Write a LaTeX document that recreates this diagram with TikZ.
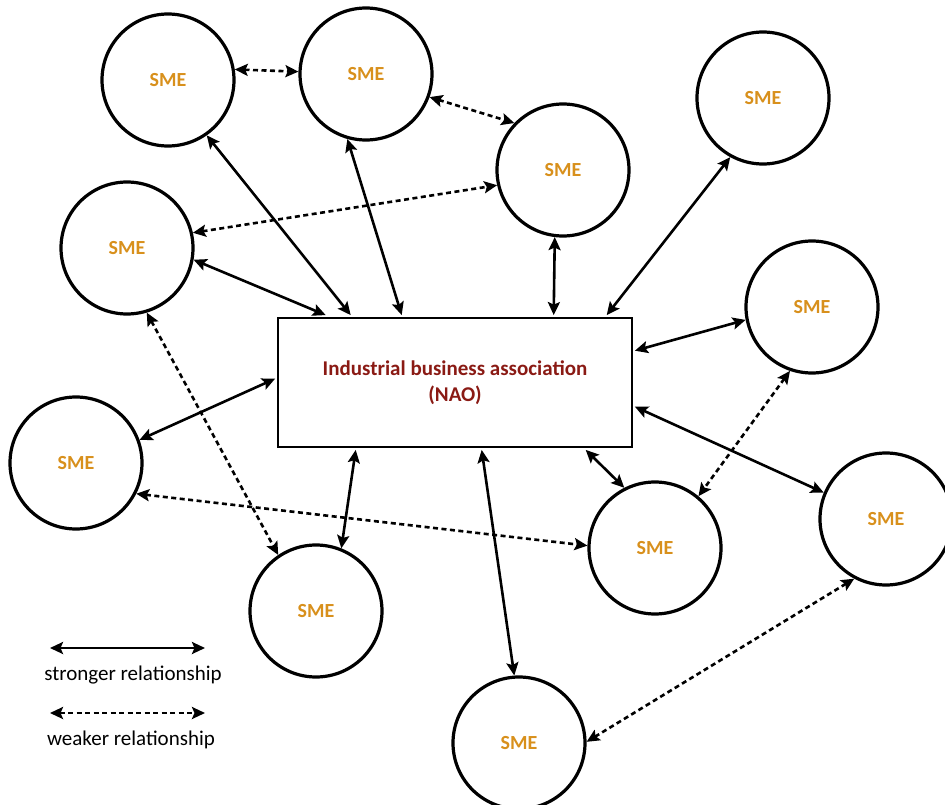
\documentclass[tikz,border=0pt]{standalone}
\usepackage{fontspec}
\setmainfont{Carlito}
\usetikzlibrary{arrows.meta}
\definecolor{smeorange}{HTML}{D8901C}
\definecolor{naored}{HTML}{8A1A14}
\begin{document}
\begin{tikzpicture}[x=1pt,y=-1pt,
  sme/.style={circle,draw,line width=3.2pt,minimum size=132pt,inner sep=0pt,
    text=smeorange,font=\fontsize{20}{22}\selectfont\bfseries},
  nao/.style={rectangle,draw,line width=2.6pt,minimum width=354pt,minimum height=129pt,
    text=naored,align=center,font=\fontsize{21}{26}\selectfont\bfseries},
  strong/.style={line width=2.6pt,{Stealth[length=13pt,width=12pt,inset=2.5pt]}-{Stealth[length=13pt,width=12pt,inset=2.5pt]}},
  weak/.style={strong,dash pattern=on 5pt off 3.5pt},
  legend/.style={font=\fontsize{21}{24}\selectfont}]
\useasboundingbox (0,0) rectangle (945,805);

% central association
\node[nao] (nao) at (455,382.5) {Industrial business association\\(NAO)};

% member firms
\node[sme] (s1) at (168,80) {SME};
\node[sme] (s2) at (366,74) {SME};
\node[sme] (s3) at (563,170) {SME};
\node[sme] (s4) at (763,98) {SME};
\node[sme] (s5) at (127,248) {SME};
\node[sme] (s6) at (812,307) {SME};
\node[sme] (s7) at (76,463) {SME};
\node[sme] (s8) at (316,611) {SME};
\node[sme] (s9) at (655,548) {SME};
\node[sme] (s10) at (886,519) {SME};
\node[sme] (s11) at (519,743) {SME};

% contact points on the association box
\coordinate (t5) at ([xshift=49pt,yshift=1.6pt]nao.north west);
\coordinate (t1) at ([xshift=74pt,yshift=1.6pt]nao.north west);
\coordinate (t2) at ([xshift=125pt,yshift=1.6pt]nao.north west);
\coordinate (t3) at ([xshift=277pt,yshift=1.6pt]nao.north west);
\coordinate (t4) at ([xshift=330pt,yshift=1.6pt]nao.north west);
\coordinate (r6) at ([xshift=1.6pt,yshift=-34pt]nao.north east);
\coordinate (r10) at ([xshift=1.6pt,yshift=-90pt]nao.north east);
\coordinate (l7) at ([xshift=-1.6pt,yshift=-62pt]nao.north west);
\coordinate (b8) at ([xshift=79pt,yshift=-1.6pt]nao.south west);
\coordinate (b11) at ([xshift=205pt,yshift=-1.6pt]nao.south west);
\coordinate (b9) at ([xshift=309pt,yshift=-1.6pt]nao.south west);

% stronger relationships
\draw[strong] (t5) -- (s5.-10);
\draw[strong] (t1) -- (s1.-55);
\draw[strong] (t2) -- (s2.-106);
\draw[strong] (t3) -- (s3.-97);
\draw[strong] (t4) -- (s4.-119);
\draw[strong] (r6) -- (s6.-169);
\draw[strong] (r10) -- (s10.157);
\draw[strong] (l7) -- (s7.20);
\draw[strong] (b8) -- (s8.68);
\draw[strong] (b11) -- (s11.94);
\draw[strong] (b9) -- (s9.117);

% weaker relationships
\draw[weak] (s1.9) -- (s2.178);
\draw[weak] (s2.-20) -- (s3.136);
\draw[weak] (s5.13) -- (s3.193);
\draw[weak] (s5.-73) -- (s8.124);
\draw[weak] (s7.-27) -- (s9.178);
\draw[weak] (s6.251) -- (s9.50);
\draw[weak] (s10.242) -- (s11.1);

% legend
\coordinate (ls1) at (50,648);
\coordinate (ls2) at (205,648);
\coordinate (lw1) at (50,713);
\coordinate (lw2) at (205,713);
\draw[strong] (ls1) -- (ls2);
\draw[weak] (lw1) -- (lw2);
\node[legend] (lstrong) at (133,675) {stronger relationship};
\node[legend] (lweak) at (131,740) {weaker relationship};
\end{tikzpicture}
\end{document}
